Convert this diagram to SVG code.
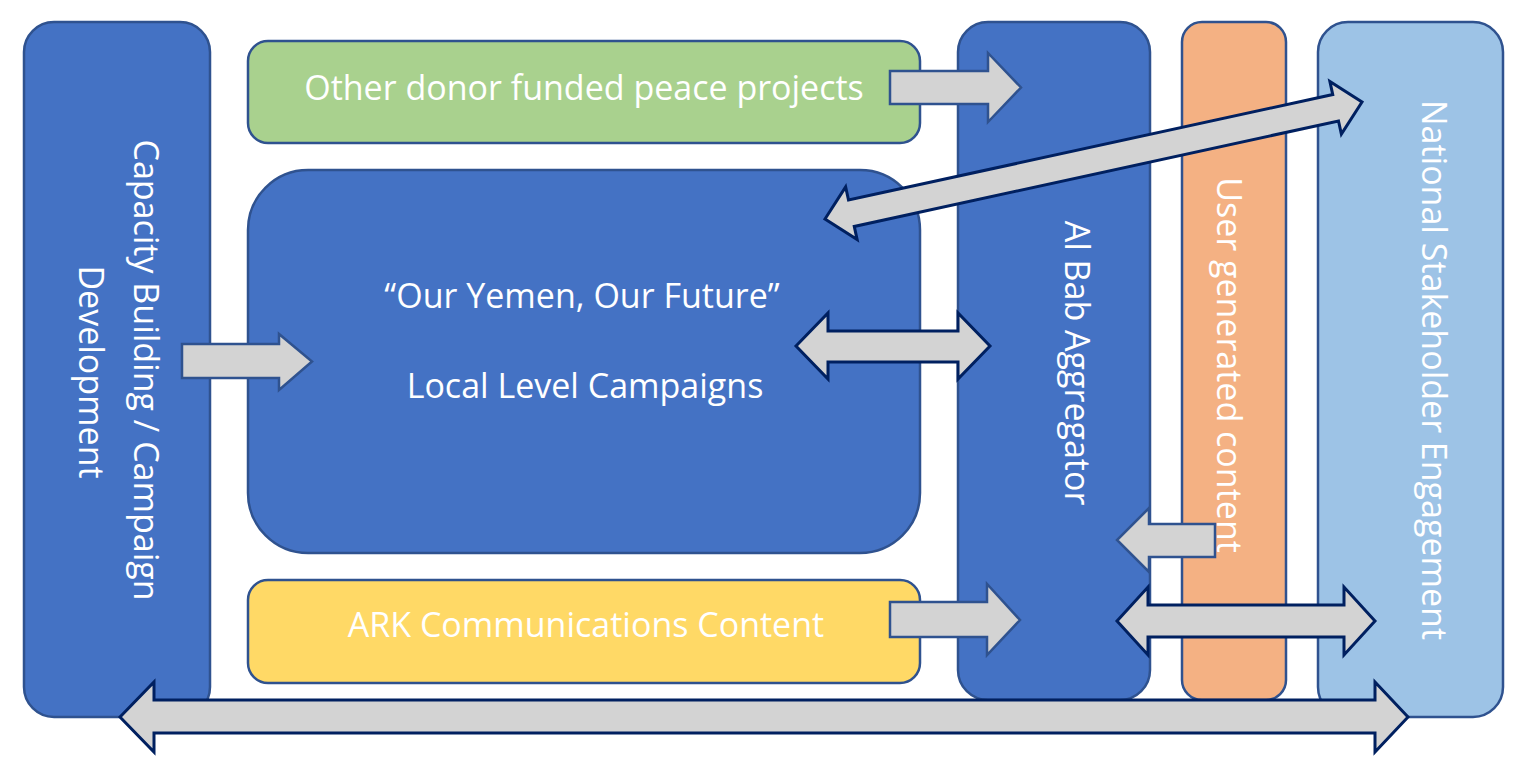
<svg xmlns="http://www.w3.org/2000/svg" width="1532" height="772" viewBox="0 0 1532 772">
<style>
.box{stroke:#2F528F;stroke-width:2.5}
.blue{fill:#4472C4}
.green{fill:#A9D18E}
.yellow{fill:#FFD966}
.orange{fill:#F4B183}
.lblue{fill:#9DC3E6}
.lbl{font-family:"Open Sans","Noto Sans",sans-serif;font-size:34px;fill:#FFFFFF;text-anchor:middle}
.a1{fill:#D3D3D3;stroke:#2F528F;stroke-width:2.5;stroke-linejoin:miter}
.a2{fill:#D3D3D3;stroke:#002060;stroke-width:3;stroke-linejoin:miter}
</style>
<rect width="1532" height="772" fill="#FFFFFF"/>
<g id="capacity">
<rect class="box blue" x="24" y="22" width="186" height="695" rx="30"/>
<text class="lbl" transform="translate(134,370) rotate(90)">Capacity Building / Campaign</text>
<text class="lbl" transform="translate(79,372) rotate(90)">Development</text>
</g>
<g id="donor">
<rect class="box green" x="248" y="41" width="672" height="102" rx="20"/>
<text class="lbl" x="584" y="100">Other donor funded peace projects</text>
</g>
<g id="campaigns">
<rect class="box blue" x="248" y="170" width="672" height="383" rx="60"/>
<text class="lbl" x="582" y="308">“Our Yemen, Our Future”</text>
<text class="lbl" x="585" y="398">Local Level Campaigns</text>
</g>
<g id="ark">
<rect class="box yellow" x="248" y="580" width="672" height="103" rx="20"/>
<text class="lbl" x="586" y="637">ARK Communications Content</text>
</g>
<g id="albab">
<rect class="box blue" x="958" y="22" width="192" height="678" rx="30"/>
<text class="lbl" transform="translate(1065,363) rotate(90)">Al Bab Aggregator</text>
</g>
<g id="usergen">
<rect class="box orange" x="1182" y="22" width="104" height="678" rx="20"/>
<text class="lbl" transform="translate(1217,365) rotate(90)">User generated content</text>
</g>
<g id="national">
<rect class="box lblue" x="1318" y="22" width="185" height="695" rx="30"/>
<text class="lbl" transform="translate(1422,370) rotate(90)">National Stakeholder Engagement</text>
</g>
<g id="connectors">
<path class="a1" d="M890,71 H988 V53 L1021,87.5 L988,122 V104 H890 Z"/>
<path class="a1" d="M182,344 H279 V334 L312,361.5 L279,390 V378 H182 Z"/>
<path class="a1" d="M890,602 H987 V584 L1020,620 L987,655 V637 H890 Z"/>
<path class="a1" d="M1215,524 H1149 V508 L1117,540 L1149,572 V557 H1215 Z"/>
<path class="a2" d="M796,346 L828,313 V331 H958 V313 L990,346 L958,379 V362 H828 V379 Z"/>
<path class="a2" d="M1117,621 L1148,587 V605 H1344 V587 L1375,621 L1344,655 V637 H1148 V655 Z"/>
<path class="a2" d="M120,717 L154,682 V700 H1375 V682 L1408,717 L1375,752 V733 H154 V752 Z"/>
<path class="a2" transform="translate(825,219) rotate(-12.29)" d="M0,0 L27,-27 V-13.5 H522.6 V-27 L549.6,0 L522.6,27 V13.5 H27 V27 Z"/>
</g>
</svg>
